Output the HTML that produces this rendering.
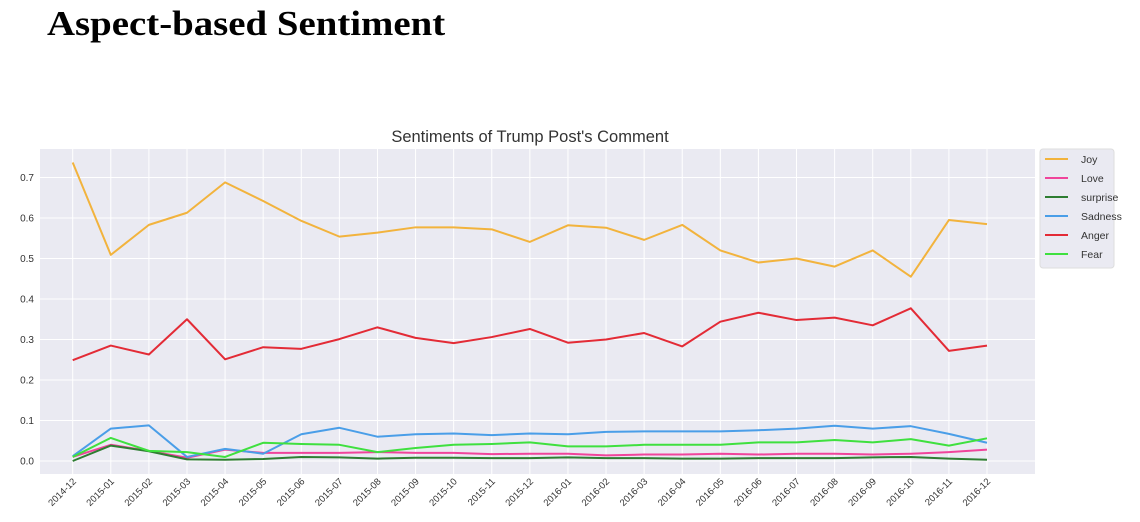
<!DOCTYPE html>
<html><head><meta charset="utf-8"><style>
body{margin:0;background:#fff;width:1140px;height:522px;overflow:hidden;position:relative;font-family:"Liberation Sans",sans-serif}
#h{position:absolute;left:47px;top:4px;font-family:"Liberation Serif",serif;font-weight:bold;font-size:35px;color:#000;transform:scaleX(1.11);transform-origin:0 0;white-space:nowrap}
</style></head><body>
<div id="h">Aspect-based Sentiment</div>
<svg id="c" width="1140" height="522" style="position:absolute;left:0;top:0"></svg>
<script>
const categories=["2014-12","2015-01","2015-02","2015-03","2015-04","2015-05","2015-06","2015-07","2015-08","2015-09","2015-10","2015-11","2015-12","2016-01","2016-02","2016-03","2016-04","2016-05","2016-06","2016-07","2016-08","2016-09","2016-10","2016-11","2016-12"];
const joy=[0.737,0.509,0.583,0.613,0.688,0.642,0.593,0.554,0.564,0.577,0.577,0.572,0.541,0.582,0.576,0.546,0.583,0.52,0.49,0.50,0.48,0.52,0.455,0.595,0.585];
const love=[0.01,0.04,0.025,0.008,0.028,0.02,0.02,0.02,0.022,0.02,0.02,0.017,0.018,0.018,0.014,0.016,0.016,0.018,0.016,0.018,0.018,0.016,0.018,0.022,0.028];
const surprise=[0.0,0.038,0.024,0.004,0.003,0.005,0.01,0.009,0.006,0.008,0.008,0.007,0.007,0.009,0.007,0.007,0.006,0.006,0.007,0.007,0.007,0.009,0.01,0.006,0.003];
const sadness=[0.012,0.08,0.088,0.01,0.03,0.018,0.066,0.082,0.06,0.066,0.068,0.064,0.068,0.066,0.072,0.073,0.073,0.073,0.076,0.08,0.087,0.08,0.086,0.067,0.045];
const anger=[0.249,0.285,0.263,0.35,0.251,0.281,0.277,0.301,0.33,0.304,0.291,0.306,0.326,0.292,0.30,0.316,0.283,0.344,0.366,0.348,0.354,0.335,0.377,0.272,0.285];
const fear=[0.01,0.057,0.025,0.022,0.01,0.045,0.042,0.04,0.022,0.032,0.04,0.042,0.046,0.036,0.036,0.04,0.04,0.04,0.046,0.046,0.052,0.046,0.054,0.038,0.056];
const yTicks=[0,0.1,0.2,0.3,0.4,0.5,0.6,0.7];
const seriesNames=["Joy","Love","surprise","Sadness","Anger","Fear"];
const seriesColors=["#f2b33d","#f0449b","#2e7d32","#4a9ee8","#e32b36","#3fe03f"];
const seriesData=[joy,love,surprise,sadness,anger,fear];

const NS="http://www.w3.org/2000/svg";
const svg=document.getElementById('c');
const L=40,R=1035,T=149,B=474;
const x=i=>72.7+i*(987-72.7)/(categories.length-1);
const y=v=>461-v*405;
function mk(t,a,p){const e=document.createElementNS(NS,t);for(const k in a)e.setAttribute(k,a[k]);(p||svg).appendChild(e);return e;}
let bg=mk('rect',{x:L,y:T,width:R-L,height:B-T,fill:'#eaeaf2'});


yTicks.forEach(v=>{
  let g=mk('line',{x1:L,x2:R,y1:y(v),y2:y(v),stroke:'#fff','stroke-width':1});
  
  
  let t=mk('text',{x:L-6,y:y(v)+3.5,'text-anchor':'end','font-size':10,fill:'#333'});
  t.textContent=v.toFixed(1);
  
  
});
categories.forEach((c,i)=>{
  let g=mk('line',{x1:x(i),x2:x(i),y1:T,y2:B,stroke:'#fff','stroke-width':1});
  
  
  let t=mk('text',{x:x(i)+4,y:B+8,'text-anchor':'end','font-size':9.5,fill:'#333',transform:`rotate(-45 ${x(i)+4} ${B+8})`});
  t.textContent=c;
  
  
});
seriesData.forEach((d,s)=>{
  let p=mk('polyline',{points:d.map((v,i)=>x(i)+','+y(v)).join(' '),fill:'none',stroke:seriesColors[s],'stroke-width':2,'stroke-linejoin':'round'});
  
  
});
let title=mk('text',{x:530,y:142,'text-anchor':'middle','font-size':16.5,fill:'#333'});
title.textContent="Sentiments of Trump Post's Comment";


let lg=mk('rect',{x:1040,y:149,width:74,height:119,fill:'#eaeaf2',stroke:'#ddd',rx:3});


seriesNames.forEach((n,s)=>{
  const yy=159+s*19;
  let l=mk('line',{x1:1045,x2:1068,y1:yy,y2:yy,stroke:seriesColors[s],'stroke-width':2});
  
  
  let t=mk('text',{x:1081,y:yy+4,'font-size':10.5,fill:'#333'});
  t.textContent=n;
  
  
});
</script>
</body></html>
